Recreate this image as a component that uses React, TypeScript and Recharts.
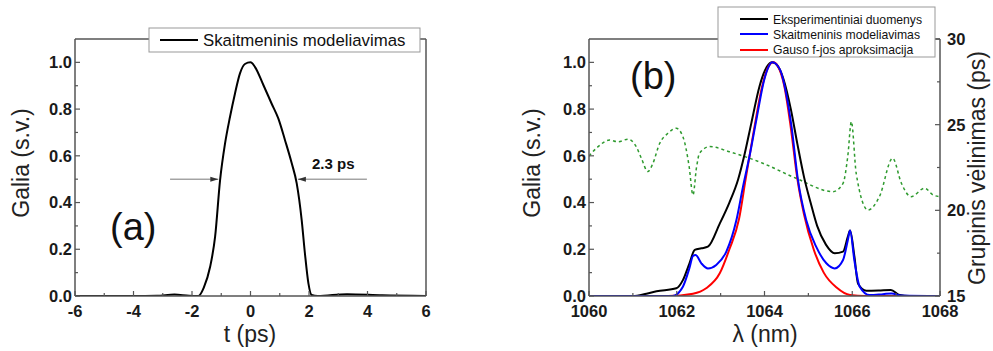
import React from "react";
import { LineChart, Line, XAxis, YAxis, ReferenceLine } from "recharts";

const FONT = '"Liberation Sans", Arial, Helvetica, sans-serif';
const AXIS = "#555";

// (a) impulso laikinis profilis
const pulseT = [-6, -4, -3.2, -2.6, -2.1, -1.78, -1.6, -1.38, -1.21, -1.04, -0.87, -0.7, -0.53, -0.36, -0.19, 0, 0.15, 0.44, 0.72, 0.95, 1.18, 1.41, 1.58, 1.75, 1.86, 1.98, 2.09, 2.3, 3.3, 4.5, 6];
const pulseP = [0, 0, 0.001, 0.006, 0.001, 0, 0.035, 0.125, 0.254, 0.496, 0.653, 0.767, 0.867, 0.953, 0.993, 1.0, 0.981, 0.903, 0.824, 0.76, 0.667, 0.568, 0.482, 0.325, 0.183, 0.054, 0.004, 0, 0.008, 0.003, 0];

// (b) spektrai
const expL = [1060, 1061.0, 1061.31, 1061.54, 1061.99, 1062.14, 1062.29, 1062.41, 1062.56, 1062.71, 1062.98, 1063.2, 1063.4, 1063.55, 1063.7, 1063.89, 1064.05, 1064.18, 1064.3, 1064.43, 1064.6, 1064.75, 1064.9, 1065.05, 1065.2, 1065.4, 1065.6, 1065.79, 1065.9, 1065.95, 1066.05, 1066.13, 1066.32, 1066.6, 1066.88, 1067.08, 1067.3, 1068];
const expP = [0, 0, 0.01, 0.02, 0.033, 0.068, 0.14, 0.197, 0.204, 0.211, 0.31, 0.4, 0.5, 0.61, 0.74, 0.9, 0.98, 1.0, 0.985, 0.93, 0.8, 0.65, 0.51, 0.4, 0.3, 0.22, 0.183, 0.19, 0.254, 0.28, 0.168, 0.054, 0.023, 0.024, 0.026, 0.004, 0, 0];

const simL = [1060, 1061.9, 1062.14, 1062.29, 1062.37, 1062.43, 1062.56, 1062.71, 1062.9, 1063.13, 1063.36, 1063.51, 1063.66, 1063.82, 1064.0, 1064.18, 1064.35, 1064.5, 1064.62, 1064.76, 1064.95, 1065.18, 1065.41, 1065.6, 1065.79, 1065.9, 1065.95, 1066.05, 1066.17, 1066.4, 1066.7, 1066.9, 1067.1, 1068];
const simP = [0, 0, 0.04, 0.12, 0.171, 0.175, 0.14, 0.118, 0.133, 0.19, 0.325, 0.468, 0.6, 0.76, 0.93, 1.0, 0.97, 0.86, 0.72, 0.5, 0.325, 0.21, 0.14, 0.118, 0.154, 0.24, 0.28, 0.15, 0.04, 0.004, 0.008, 0.011, 0.002, 0];

const gaussL = [1060, 1061.8, 1062.37, 1062.67, 1062.98, 1063.2, 1063.42, 1063.57, 1063.75, 1063.95, 1064.1, 1064.2, 1064.3, 1064.45, 1064.6, 1064.75, 1064.9, 1065.12, 1065.35, 1065.65, 1065.95, 1066.3, 1068];
const gaussP = [0, 0, 0.01, 0.033, 0.097, 0.2, 0.33, 0.5, 0.7, 0.9, 0.985, 1.0, 0.985, 0.9, 0.72, 0.5, 0.35, 0.2, 0.1, 0.035, 0.004, 0, 0];

// grupinis vėlinimas (ps)
const gdL = [1060, 1060.2, 1060.47, 1060.66, 1060.89, 1061.08, 1061.2, 1061.34, 1061.45, 1061.61, 1061.8, 1061.99, 1062.14, 1062.28, 1062.37, 1062.45, 1062.52, 1062.75, 1063.2, 1063.96, 1064.72, 1065.56, 1065.79, 1065.9, 1065.98, 1066.09, 1066.36, 1066.62, 1066.92, 1067.12, 1067.34, 1067.65, 1067.84, 1068];
const gdPs = [23.17, 23.7, 24.1, 24.0, 24.15, 23.7, 23.0, 22.26, 22.7, 23.9, 24.5, 24.79, 24.3, 22.6, 20.9, 22.5, 23.33, 23.72, 23.42, 22.75, 21.87, 21.09, 21.58, 23.2, 25.18, 22.16, 20.02, 20.8, 23.04, 21.58, 20.8, 21.29, 20.9, 20.8];

const tTicks = [-6, -5, -4, -3, -2, -1, 0, 1, 2, 3, 4, 5, 6];
const lambdaTicks = [1060, 1061, 1062, 1063, 1064, 1065, 1066, 1067, 1068];
const powerTicks = [0, 0.1, 0.2, 0.3, 0.4, 0.5, 0.6, 0.7, 0.8, 0.9, 1.0];
const delayTicks = [15, 17.5, 20, 22.5, 25, 27.5, 30];

const zip = (xs: number[], ys: number[]) => xs.map((x, i) => ({ x, y: ys[i] }));
const pulse = zip(pulseT, pulseP);
const exp = zip(expL, expP);
const sim = zip(simL, simP);
const gauss = zip(gaussL, gaussP);
const gd = zip(gdL, gdPs);

const tickText = { fontFamily: FONT, fontSize: 16.5, fontWeight: 700, fill: "#1a1a1a" };

const powerMajor = (v: number) => Math.round(v * 10) % 2 === 0;
const evenMajor = (v: number) => Math.round(v) % 2 === 0;
const delayMajor = (v: number) => v % 5 === 0;

// tickSize = 0, so the axis line sits tickMargin away from the label anchor
const leftTick = (margin: number) => (props: any) => {
  const { x, y, payload } = props;
  const major = powerMajor(payload.value);
  const ax = x + margin;
  return (
    <g>
      <line x1={ax} y1={y} x2={ax + (major ? 5 : 3)} y2={y} stroke={AXIS} strokeWidth={1.2} />
      {major && (
        <text x={x} y={y} dy="0.36em" textAnchor="end" {...tickText}>
          {payload.value.toFixed(1)}
        </text>
      )}
    </g>
  );
};

const bottomTick = (margin: number) => (props: any) => {
  const { x, y, payload } = props;
  const major = evenMajor(payload.value);
  const ay = y - margin;
  return (
    <g>
      <line x1={x} y1={ay} x2={x} y2={ay - (major ? 5 : 3)} stroke={AXIS} strokeWidth={1.2} />
      {major && (
        <text x={x} y={y} dy="0.72em" textAnchor="middle" {...tickText}>
          {String(payload.value)}
        </text>
      )}
    </g>
  );
};

const rightTick = (margin: number) => (props: any) => {
  const { x, y, payload } = props;
  const major = delayMajor(payload.value);
  const ax = x - margin;
  return (
    <g>
      <line x1={ax} y1={y} x2={ax - (major ? 5 : 3)} y2={y} stroke={AXIS} strokeWidth={1.2} />
      {major && (
        <text x={x} y={y} dy="0.36em" textAnchor="start" {...tickText}>
          {String(payload.value)}
        </text>
      )}
    </g>
  );
};

const Arrow = (props: any) => {
  const { x1, y1, x2, y2 } = props;
  const d = Math.sign(x2 - x1);
  return (
    <g>
      <line x1={x1} y1={y1} x2={x2} y2={y2} stroke="#777" strokeWidth={1} />
      <polygon points={`${x2},${y2} ${x2 - d * 8},${y2 - 2.5} ${x2 - d * 8},${y2 + 2.5}`} fill="#333" />
    </g>
  );
};

const axisLine = { stroke: AXIS, strokeWidth: 1.5 };
const title = { fontFamily: FONT, fontSize: 23, fill: "#222" };

export default function App() {
  return (
    <div style={{ position: "absolute", left: 0, top: 0, width: 993, height: 351, background: "#fff" }}>
      <div style={{ position: "absolute", left: 0, top: 0 }}>
        <LineChart width={460} height={351} data={pulse} margin={{ top: 39, right: 34, bottom: 25, left: 35 }}>
          <XAxis type="number" dataKey="x" domain={[-6, 6]} ticks={tTicks} interval={0} allowDataOverflow
            height={30} tickSize={0} tickMargin={9} tickLine={false} axisLine={axisLine} tick={bottomTick(9)} />
          <YAxis type="number" domain={[0, 1.1]} ticks={powerTicks} interval={0} allowDataOverflow
            width={40} tickSize={0} tickMargin={3} tickLine={false} axisLine={axisLine} tick={leftTick(3)} />
          <ReferenceLine y={1.1} stroke={AXIS} strokeWidth={1.5} />
          <ReferenceLine x={6} stroke={AXIS} strokeWidth={1.5} />
          <ReferenceLine segment={[{ x: -2.75, y: 0.5 }, { x: -1.1, y: 0.5 }]} shape={Arrow} />
          <ReferenceLine segment={[{ x: 3.98, y: 0.5 }, { x: 1.62, y: 0.5 }]} shape={Arrow} />
          <Line type="monotone" dataKey="y" stroke="#000" strokeWidth={2} dot={false} isAnimationActive={false} />
        </LineChart>
      </div>
      <div style={{ position: "absolute", left: 500, top: 0 }}>
        <LineChart width={493} height={351} margin={{ top: 39, right: 13, bottom: 25, left: 49 }}>
          <XAxis type="number" dataKey="x" domain={[1060, 1068]} ticks={lambdaTicks} interval={0} allowDataOverflow
            height={30} tickSize={0} tickMargin={9} tickLine={false} axisLine={axisLine} tick={bottomTick(9)} />
          <YAxis yAxisId="left" type="number" domain={[0, 1.1]} ticks={powerTicks} interval={0} allowDataOverflow
            width={40} tickSize={0} tickMargin={3} tickLine={false} axisLine={axisLine} tick={leftTick(3)} />
          <YAxis yAxisId="right" orientation="right" type="number" domain={[15, 30]} ticks={delayTicks} interval={0}
            allowDataOverflow width={40} tickSize={0} tickMargin={7} tickLine={false} axisLine={axisLine} tick={rightTick(7)} />
          <ReferenceLine yAxisId="left" y={1.1} stroke={AXIS} strokeWidth={1.5} />
          <Line yAxisId="right" data={gd} type="monotone" dataKey="y" stroke="#2e9a2e" strokeWidth={1.5}
            strokeDasharray="3 3" dot={false} isAnimationActive={false} />
          <Line yAxisId="left" data={exp} type="monotone" dataKey="y" stroke="#000" strokeWidth={2} dot={false} isAnimationActive={false} />
          <Line yAxisId="left" data={gauss} type="monotone" dataKey="y" stroke="#ff0000" strokeWidth={2} dot={false} isAnimationActive={false} />
          <Line yAxisId="left" data={sim} type="monotone" dataKey="y" stroke="#0000ff" strokeWidth={2} dot={false} isAnimationActive={false} />
        </LineChart>
      </div>
      <svg width={993} height={351} style={{ position: "absolute", left: 0, top: 0, pointerEvents: "none" }}>
        {/* (a) */}
        <rect x={149} y={28} width={271} height={24} fill="#fff" stroke="#999" strokeWidth={1} />
        <line x1={160} y1={40} x2={198} y2={40} stroke="#000" strokeWidth={2} />
        <text x={203} y={45.5} fontFamily={FONT} fontSize={16.8} fill="#111">Skaitmeninis modeliavimas</text>
        <text x={110} y={240} fontFamily={FONT} fontSize={38} fill="#111">(a)</text>
        <text x={312} y={169} fontFamily={FONT} fontSize={15} fontWeight={700} fill="#111">2.3 ps</text>
        <text transform="translate(29,163) rotate(-90)" textAnchor="middle" {...title}>Galia (s.v.)</text>
        <text x={250} y={342} textAnchor="middle" {...title}>t (ps)</text>

        {/* (b) */}
        <rect x={718} y={7} width={217} height={50} fill="#fff" stroke="#999" strokeWidth={1} />
        <line x1={740} y1={19} x2={768} y2={19} stroke="#000" strokeWidth={2} />
        <line x1={740} y1={34} x2={768} y2={34} stroke="#0000ff" strokeWidth={2} />
        <line x1={740} y1={50} x2={768} y2={50} stroke="#ff0000" strokeWidth={2} />
        <text x={773} y={23.5} fontFamily={FONT} fontSize={12.2} fill="#111">Eksperimentiniai duomenys</text>
        <text x={773} y={38.5} fontFamily={FONT} fontSize={12.2} fill="#111">Skaitmeninis modeliavimas</text>
        <text x={773} y={54} fontFamily={FONT} fontSize={12.2} fill="#111">Gauso f-jos aproksimacija</text>
        <text x={630} y={89} fontFamily={FONT} fontSize={38} fill="#111">(b)</text>
        <text transform="translate(540,163) rotate(-90)" textAnchor="middle" {...title}>Galia (s.v.)</text>
        <text transform="translate(985,168) rotate(-90)" textAnchor="middle" {...title}>Grupinis vėlinimas (ps)</text>
        <text x={765} y={342} textAnchor="middle" {...title}>λ (nm)</text>
      </svg>
    </div>
  );
}
